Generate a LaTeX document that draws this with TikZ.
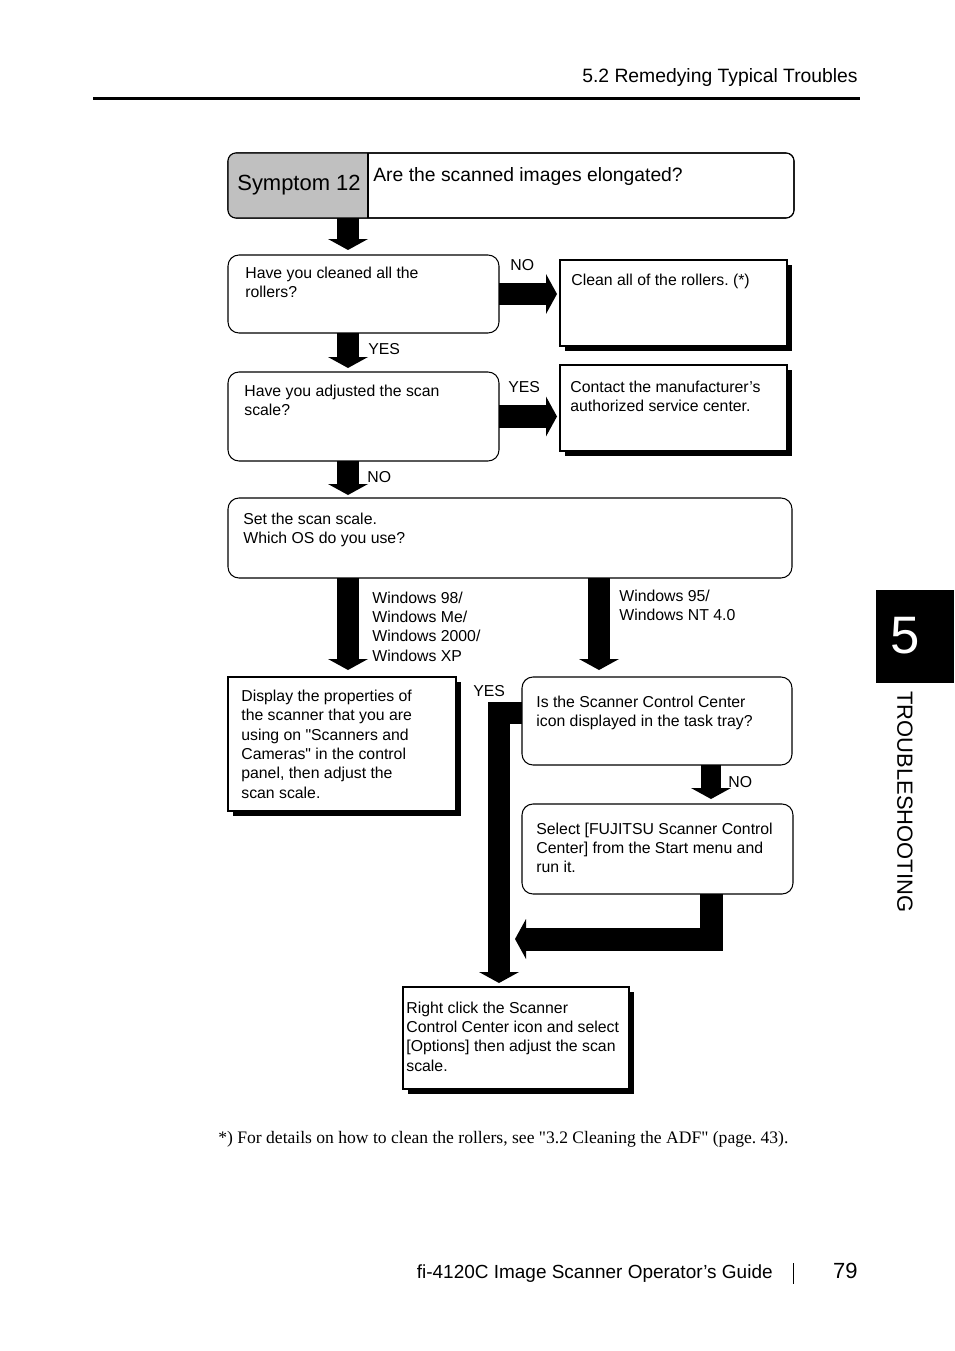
\documentclass[tikz,border=0pt]{standalone}
\usepackage{fontspec}
\setmainfont{Liberation Sans}
\newfontfamily\notefont{Liberation Serif}
\usepackage{xcolor}
\usetikzlibrary{arrows.meta, positioning, shadows}
\definecolor{symgray}{RGB}{192, 192, 192}
\frenchspacing

\tikzset{
  box/.style={draw, line width=0.6pt, fill=white, inner sep=0pt, outer sep=0pt, anchor=north west},
  qbox/.style={box, rounded corners=0.22cm},
  shbox/.style={box, general shadow={fill=black, shadow xshift=0.1cm, shadow yshift=-0.1cm}},
  sz/.style 2 args={minimum width=#1*0.02cm, minimum height=#2*0.02cm},
  txt/.style={anchor=base west, align=left, inner sep=0pt, font=\fontsize{9}{11}\selectfont},
  lbl/.style={anchor=base west, inner sep=0pt, font=\fontsize{9}{11}\selectfont},
  flow/.style={line width=0.44cm, -{Triangle[width=0.8cm, length=0.22cm, line width=0pt]}},
}

\begin{document}
\begin{tikzpicture}[x=0.02cm, y=-0.02cm]
    \useasboundingbox (0,0) rectangle (954,1351);

    % --- header ---
    \node[anchor=base east, inner sep=0pt, font=\fontsize{11}{13}\selectfont] (head) at (858,83) {5.2 Remedying Typical Troubles};
    \draw[line width=0.06cm] (93,99) -- (860,99);

    % --- symptom ---
    \node[qbox, sz={566}{65}, rounded corners=0.16cm] (sym) at (228,153) {};
    \begin{scope}
      \clip[rounded corners=0.16cm] (sym.north west) rectangle (sym.south east);
      \fill[symgray] (sym.north west) rectangle (368,218);
    \end{scope}
    \draw[line width=0.6pt, rounded corners=0.16cm] (sym.north west) rectangle (sym.south east);
    \draw[line width=0.6pt] (368,153) -- (368,218);
    \node[anchor=base, inner sep=0pt, font=\fontsize{12.5}{15}\selectfont] (symno) at (299,191) {Symptom 12};
    \node[anchor=base west, inner sep=0pt, font=\fontsize{11}{13}\selectfont] (symq) at (373,182) {Are the scanned images elongated?};

    % --- boxes (text sits on its last baseline) ---
    \node[qbox, sz={271}{78}] (q1) at (228,255) {};
    \node[txt] (q1t) at (245,297.4) {Have you cleaned all the\\rollers?};
    \node[shbox, sz={227}{86}] (cl) at (560,260) {};
    \node[txt] (clt) at (571,286) {Clean all of the rollers. (*)};
    \node[qbox, sz={271}{89}] (q2) at (228,372) {};
    \node[txt] (q2t) at (244,415.4) {Have you adjusted the scan\\scale?};
    \node[shbox, sz={227}{86}] (ct) at (560,365) {};
    \node[txt] (ctt) at (570,411.4) {Contact the manufacturer’s\\authorized service center.};
    \node[qbox, sz={564}{80}] (q3) at (228,498) {};
    \node[txt] (q3t) at (243,543.4) {Set the scan scale.\\Which OS do you use?};
    \node[shbox, sz={228}{134}] (d1) at (228,677) {};
    \node[txt] (d1t) at (241,798) {Display the properties of\\the scanner that you are\\using on \textquotedbl Scanners and\\Cameras\textquotedbl\ in the control\\panel, then adjust the\\scan scale.};
    \node[qbox, sz={270}{88}] (q4) at (522,677) {};
    \node[txt] (q4t) at (536,726.4) {Is the Scanner Control Center\\icon displayed in the task tray?};
    \node[qbox, sz={271}{90}] (s1) at (522,804) {};
    \node[txt] (s1t) at (536,872.8) {Select [FUJITSU Scanner Control\\Center] from the Start menu and\\run it.};
    \node[shbox, sz={226}{102}] (r1) at (403,987) {};
    \node[txt] (r1t) at (406,1071) {Right click the Scanner\\Control Center icon and select\\{}[Options] then adjust the scan\\scale.};

    % --- arrows ---
    \coordinate (lx) at (348,0);
    \coordinate (rx) at (599,0);
    \coordinate (nx) at (711,0);
    \coordinate (yx) at (499,713);
    \coordinate (back) at (515,939);
    \draw[flow, shorten >=0.1cm] (lx |- sym.south) -- (lx |- q1.north);
    \draw[flow, line width=0.46cm, shorten >=0.06cm] (q1.east) -- (q1.east -| cl.west);
    \draw[flow, shorten >=0.08cm] (lx |- q1.south) -- (lx |- q2.north);
    \draw[flow, line width=0.46cm, shorten >=0.06cm] (q2.east) -- (q2.east -| ct.west);
    \draw[flow, shorten >=0.06cm] (lx |- q2.south) -- (lx |- q3.north);
    \draw[flow, shorten >=0.14cm] (lx |- q3.south) -- (lx |- d1.north);
    \draw[flow, shorten >=0.14cm] (rx |- q3.south) -- (rx |- q4.north);
    \draw[flow, line width=0.4cm, shorten >=0.1cm] (nx |- q4.south) -- (nx |- s1.north);
    \draw[flow, line width=0.46cm] (nx |- s1.south) -- (nx |- back) -- (back);
    \draw[flow, shorten >=0.08cm] (yx -| q4.west) -- (yx) -- (yx |- r1.north);

    % --- labels ---
    \node[lbl] (no1) at (510,271) {NO};
    \node[lbl] (yes1) at (368,354) {YES};
    \node[lbl] (yes2) at (508,392) {YES};
    \node[lbl] (no2) at (367,482) {NO};
    \node[txt] (os1) at (372,661) {Windows 98/\\Windows Me/\\Windows 2000/\\Windows XP};
    \node[txt] (os2) at (619,620.4) {Windows 95/\\Windows NT 4.0};
    \node[lbl] (yes3) at (473,696) {YES};
    \node[lbl] (no3) at (728,787) {NO};

    % --- footnote ---
    \node[anchor=base west, inner sep=0pt, font=\notefont\fontsize{10}{12}\selectfont] (fn) at (218,1143) {*) For details on how to clean the rollers, see "3.2 Cleaning the ADF" (page. 43).};

    % --- chapter tab ---
    \node[fill=black, anchor=north west, inner sep=0pt, sz={78}{93}] (tab) at (876,590) {};
    \node[white, font=\fontsize{30}{36}\selectfont] (tabno) at (905,636) {5};
    \node[rotate=-90, inner sep=0pt, font=\fontsize{12.5}{15}\selectfont] (chap) at (905,802) {TROUBLESHOOTING};

    % --- footer ---
    \node[anchor=base east, inner sep=0pt, font=\fontsize{10.8}{13}\selectfont] (guide) at (773,1278) {fi-4120C Image Scanner Operator’s Guide};
    \draw[line width=0.4pt] (793,1263) -- (793,1284);
    \node[anchor=base east, inner sep=0pt, font=\fontsize{12.5}{15}\selectfont] (pg) at (858,1278) {79};
\end{tikzpicture}
\end{document}
